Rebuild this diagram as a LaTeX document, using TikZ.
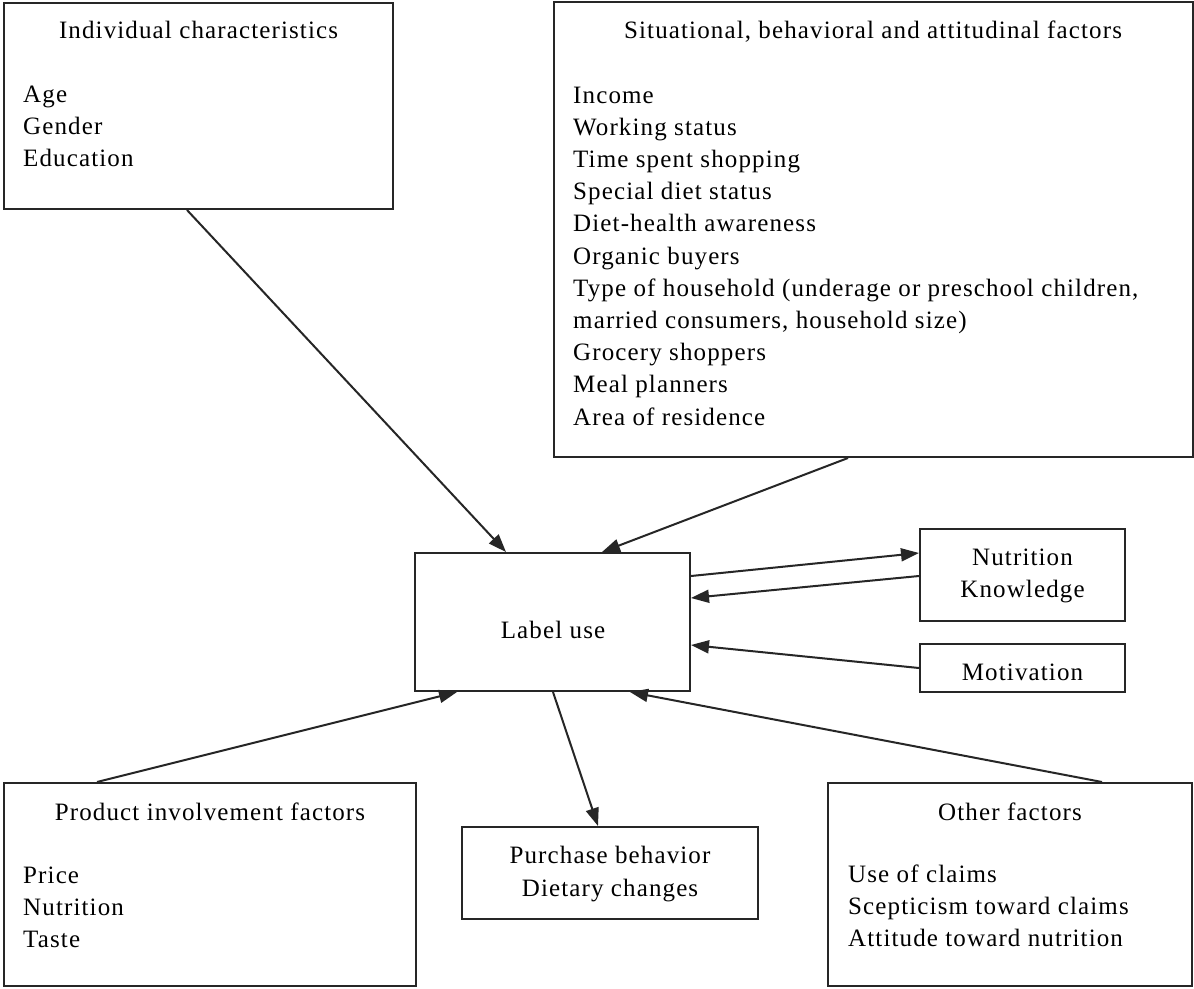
\documentclass[tikz,border=0pt]{standalone}
\usepackage{fontspec}
\setmainfont{Liberation Serif}[LetterSpace=4.5]
\usetikzlibrary{arrows.meta}
\tikzset{
  boxnode/.style={draw=black!85, line width=2pt, inner sep=0pt, fill=none},
  txt/.style={inner sep=0pt, font=\fontsize{25}{32.2}\selectfont, text=black},
  conn/.style={line width=2pt, draw=black!85, -{Triangle[length=18pt,width=13pt]}}
}
\begin{document}
\begin{tikzpicture}[x=1pt,y=-1pt]
\useasboundingbox[fill=white] (0,0) rectangle (1194,988);
% boxes
\node[boxnode, minimum width=389pt, minimum height=206pt] (ind) at (198.5,106) {};
\node[boxnode, minimum width=639pt, minimum height=455pt] (sit) at (873,229.5) {};
\node[boxnode, minimum width=275pt, minimum height=138pt] (lab) at (552.5,622) {};
\node[boxnode, minimum width=205pt, minimum height=92pt] (nut) at (1022.5,575) {};
\node[boxnode, minimum width=205pt, minimum height=48pt] (mot) at (1022.5,668) {};
\node[boxnode, minimum width=412pt, minimum height=203pt] (prod) at (210,884.5) {};
\node[boxnode, minimum width=296pt, minimum height=92pt] (pur) at (610,873) {};
\node[boxnode, minimum width=364pt, minimum height=203pt] (oth) at (1010,884.5) {};
% texts
\node[txt, anchor=base] (ind-t) at (198.5,38) {Individual characteristics};
\foreach \t [count=\i] in {Age, Gender, Education}
  \node[txt, anchor=base west] (ind-\i) at (23,{102+32.2*(\i-1)}) {\t};
\node[txt, anchor=base] (sit-t) at (873,38) {Situational, behavioral and attitudinal factors};
\foreach \t [count=\i] in {Income, Working status, Time spent shopping, Special diet status, Diet-health awareness, Organic buyers, {Type of household (underage or preschool children,}, {married consumers, household size)}, Grocery shoppers, Meal planners, Area of residence}
  \node[txt, anchor=base west] (sit-\i) at (573,{103+32.2*(\i-1)}) {\t};
\node[txt, anchor=base] (lab-t) at (553,638) {Label use};
\node[txt, anchor=base] (nut-1) at (1022.5,565) {Nutrition};
\node[txt, anchor=base] (nut-2) at (1022.5,597) {Knowledge};
\node[txt, anchor=base] (mot-t) at (1022.5,680) {Motivation};
\node[txt, anchor=base] (prod-t) at (210,820) {Product involvement factors};
\foreach \t [count=\i] in {Price, Nutrition, Taste}
  \node[txt, anchor=base west] (prod-\i) at (23,{883+32.2*(\i-1)}) {\t};
\node[txt, anchor=base] (pur-1) at (610,863) {Purchase behavior};
\node[txt, anchor=base] (pur-2) at (610,896) {Dietary changes};
\node[txt, anchor=base] (oth-t) at (1010,820) {Other factors};
\foreach \t [count=\i] in {Use of claims, Scepticism toward claims, Attitude toward nutrition}
  \node[txt, anchor=base west] (oth-\i) at (848,{882+32.2*(\i-1)}) {\t};
% connectors
\draw[conn] ([xshift=-11.5pt]ind.south) -- ([xshift=-46.5pt]lab.north);
\draw[conn] ([xshift=-25pt]sit.south) -- ([xshift=49.5pt]lab.north);
\draw[conn] ([yshift=46pt]lab.east) -- ([yshift=22pt]nut.west);
\draw[conn] ([yshift=-1pt]nut.west) -- ([yshift=24pt]lab.east);
\draw[conn] (mot.west) -- ([yshift=-23pt]lab.east);
\draw[conn] ([xshift=-113pt]prod.north) -- ([xshift=-95.5pt]lab.south);
\draw[conn] ([xshift=92pt]oth.north) -- ([xshift=77.5pt]lab.south);
\draw[conn] ([xshift=0.5pt]lab.south) -- ([xshift=-12pt]pur.north);
\end{tikzpicture}
\end{document}
